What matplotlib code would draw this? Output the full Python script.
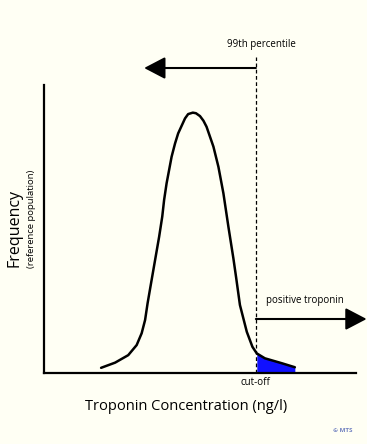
"""Troponin 99th percentile cut-off schematic."""
import numpy as np
import matplotlib
matplotlib.use("Agg")
import matplotlib.pyplot as plt

plt.rcParams["font.family"] = ["Open Sans", "DejaVu Sans"]

BG = "#fffff4"
FILL = "#1010ff"

# curve (x: concentration, y: frequency, arbitrary units)
conc = [18.3, 22.8, 27.0, 29.7, 31.3, 32.4, 33.2, 34.3, 35.6, 36.9, 37.9,
        38.5, 39.3, 40.9, 42.0, 43.0, 45.2, 46.2, 47.7, 48.7, 50.0, 51.1,
        52.1, 54.3, 55.9, 57.5, 59.1, 60.7, 61.6, 62.8, 65.0, 66.8, 68.2,
        70.8, 76.2, 80.4]
freq = [1.8, 3.6, 6.2, 9.7, 13.8, 18.4, 24.2, 31.1, 39.2, 47.3, 54.3,
        60.1, 65.9, 75.1, 79.7, 83.2, 88.4, 89.9, 90.4, 90.2, 89.2, 87.6,
        85.5, 78.6, 71.6, 62.4, 50.8, 39.8, 33.0, 23.6, 14.3, 9.1, 6.8,
        5.1, 3.4, 2.0]
cutoff = 67.9

fig = plt.figure(figsize=(3.67, 4.44), dpi=100, facecolor=BG)
ax = fig.add_axes([44 / 367, 71 / 444, 312 / 367, 288 / 444])
ax.set_facecolor(BG)
ax.set_xlim(0, 100)
ax.set_ylim(0, 100)
for s in ("top", "right"):
    ax.spines[s].set_visible(False)
for s in ("left", "bottom"):
    ax.spines[s].set_linewidth(1.6)
ax.set_xticks([])
ax.set_yticks([])

x = np.array(conc)
y = np.array(freq)
ax.fill_between(x, 0, y, where=x >= cutoff, interpolate=True,
                color=FILL, lw=0)
ax.plot(x, y, color="black", lw=1.8, solid_capstyle="round",
        solid_joinstyle="round")

# cut-off line
ax.plot([cutoff, cutoff], [0, 109.7], color="black", lw=0.9,
        ls=(0, (3, 2)), clip_on=False)

arrow = dict(arrowstyle="-|>,head_length=0.65,head_width=0.34",
             color="black", lw=1.5, mutation_scale=20, shrinkA=0, shrinkB=0)
ax.annotate("", xy=(32.1, 105.9), xytext=(cutoff, 105.9),
            arrowprops=arrow, annotation_clip=False)
ax.annotate("", xy=(103.4, 18.75), xytext=(cutoff, 18.75),
            arrowprops=arrow, annotation_clip=False)

ax.text(69.8, 113.9, "99th percentile", ha="center", va="center",
        fontsize=7, clip_on=False)
ax.text(83.7, 25.3, "positive troponin", ha="center", va="center",
        fontsize=7, clip_on=False)
ax.text(cutoff, -3.4, "cut-off", ha="center", va="center", fontsize=7,
        clip_on=False)

fig.text(186 / 367, 1 - 406 / 444, "Troponin Concentration (ng/l)",
         ha="center", va="center", fontsize=10.5)
fig.text(15 / 367, 1 - 228 / 444, "Frequency", rotation=90,
         ha="center", va="center", fontsize=11.5)
fig.text(31 / 367, 1 - 219 / 444, "(reference population)", rotation=90,
         ha="center", va="center", fontsize=6.8)
fig.text(343 / 367, 1 - 430 / 444, "© MTS", ha="center", va="center",
         fontsize=4.5, fontweight="bold", color="#7080c0")

fig.savefig("out.png", dpi=100, facecolor=BG)
